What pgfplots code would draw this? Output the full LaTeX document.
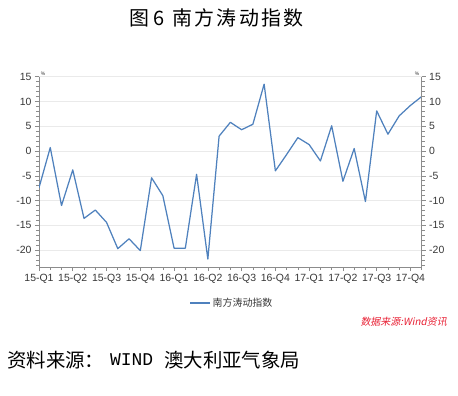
\documentclass[border=0pt]{standalone}
\usepackage{fontspec}
\setmainfont{Liberation Sans}
\newfontfamily\cjk{Noto Sans CJK SC}
\newfontfamily\cjktitle[LetterSpace=12]{Noto Sans CJK SC}
\newfontfamily\cjkit[FakeSlant=0.2]{Noto Sans CJK SC}
\newfontfamily\monofnt{Liberation Mono}
\usepackage{pgfplots}
\pgfplotsset{compat=1.18}
\definecolor{lineblue}{RGB}{79,129,189}
\definecolor{axgray}{RGB}{140,140,140}
\definecolor{gridgray}{RGB}{234,234,234}
\definecolor{txtgray}{RGB}{55,55,55}
\definecolor{srcred}{RGB}{232,32,52}
\pgfplotstableread{
idx val
0 -7.4
1 0.7
2 -11.0
3 -3.8
4 -13.6
5 -11.9
6 -14.4
7 -19.7
8 -17.7
9 -20.1
10 -5.4
11 -9.0
12 -19.6
13 -19.6
14 -4.7
15 -21.8
16 3.0
17 5.8
18 4.3
19 5.4
20 13.5
21 -4.0
22 -0.7
23 2.7
24 1.3
25 -2.0
26 5.1
27 -6.1
28 0.5
29 -10.2
30 8.1
31 3.4
32 7.1
33 9.2
34 11.0
}\soi
\begin{document}
\begin{tikzpicture}[x=1bp,y=1bp]
\useasboundingbox (0,0) rectangle (458,395);
\pgfplotsset{
  common/.style={
    at={(39bp,128bp)}, anchor=south west,
    scale only axis, width=382.7bp, height=190.3bp,
    xmin=0, xmax=34, ymin=-23.4, ymax=15,
    ytick={-20,-15,-10,-5,0,5,10,15},
    yticklabels={-20,-15,-10,-5,0,5,10,15},
    minor ytick={-23,-22,...,15},
    tick align=outside,
    major tick length=4bp, minor tick length=3bp,
    tick style={axgray, line width=0.6bp},
    axis line style={axgray, line width=0.7bp},
    tick label style={font=\fontsize{10.5}{12}\selectfont, text=txtgray},
  }
}
\begin{axis}[common,
  axis x line*=bottom, axis y line*=left,
  xtick={0,3,...,33},
  xticklabels={15-Q1,15-Q2,15-Q3,15-Q4,16-Q1,16-Q2,16-Q3,16-Q4,17-Q1,17-Q2,17-Q3,17-Q4},
  minor xtick={0,1,...,34},
  ymajorgrids, major grid style={gridgray, line width=0.6bp},
  legend style={at={(0.504,-0.189)}, anchor=center, draw=none, fill=none,
    font=\cjk\fontsize{10}{12}\selectfont, text=txtgray, inner sep=1bp},
  legend image code/.code={\draw[#1] (0bp,0bp) -- (20bp,0bp);},
]
\addplot[lineblue, line width=1.25bp, line join=round] table[x=idx, y=val] {\soi};
\addlegendentry{南方涛动指数}
\end{axis}
\begin{axis}[common,
  axis x line=none, axis y line*=right,
]
\end{axis}
\node[font=\fontsize{5}{6}\selectfont, text=txtgray] at (43,321) {\%};
\node[font=\fontsize{5}{6}\selectfont, text=txtgray] at (417,321) {\%};
\node[font=\cjktitle\fontsize{20}{24}\selectfont, anchor=west, inner sep=0pt] at (129,377) {图\hspace{4bp}6\hspace{8bp}南方涛动指数};
\node[font=\cjkit\fontsize{10}{12}\selectfont, text=srcred, anchor=east, inner sep=0pt] at (447,73) {数据来源:Wind资讯};
\node[font=\cjk\fontsize{19.5}{22}\selectfont, anchor=west, inner sep=0pt] at (7,35) {资料来源：};
\node[font=\monofnt\fontsize{18}{22}\selectfont, anchor=west, inner sep=0pt] at (110,35) {WIND};
\node[font=\cjk\fontsize{19.5}{22}\selectfont, anchor=west, inner sep=0pt] at (164,35) {澳大利亚气象局};
\end{tikzpicture}
\end{document}
